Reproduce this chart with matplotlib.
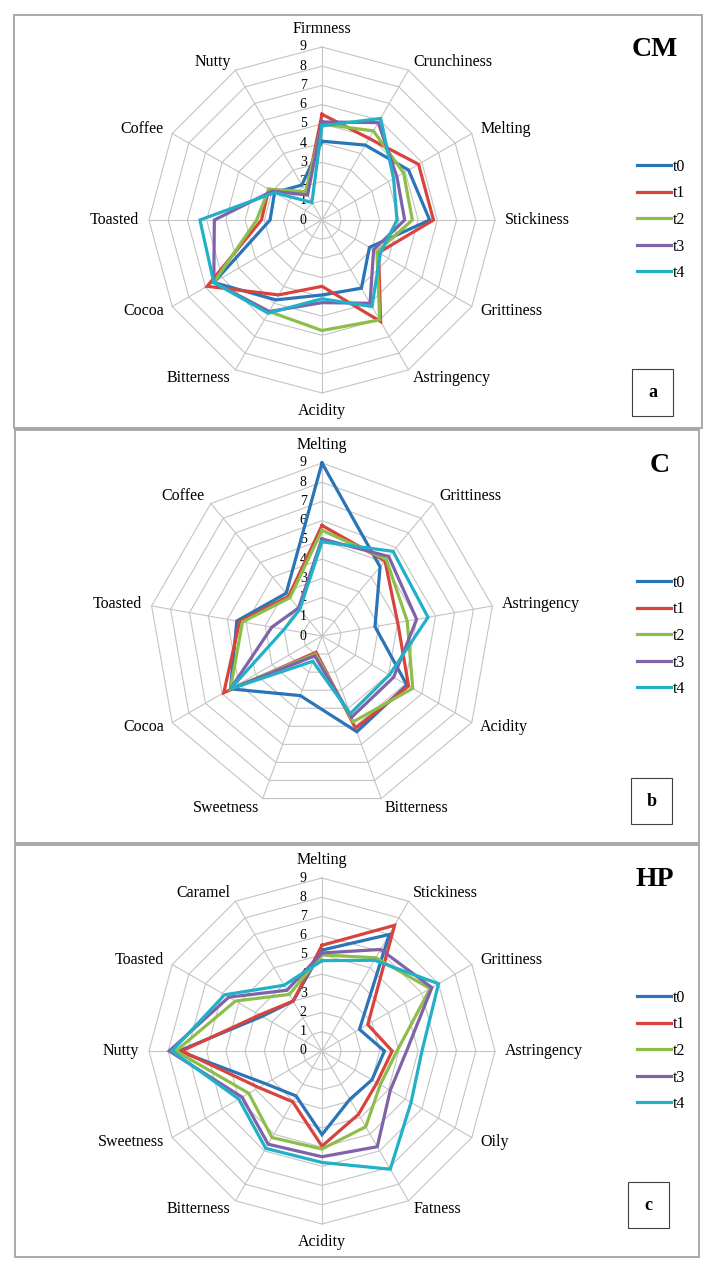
import numpy as np
import matplotlib
matplotlib.use("Agg")
import matplotlib.pyplot as plt
from matplotlib.patches import Rectangle

plt.rcParams['font.family'] = ['Liberation Serif', 'DejaVu Serif']

# ---- data ----
series = ['t0', 't1', 't2', 't3', 't4']
colors = ['#2A74B8', '#D9433E', '#8DBE4A', '#8062A8', '#21B0C8']

cm_labels = ['Firmness', 'Crunchiness', 'Melting', 'Stickiness', 'Grittiness', 'Astringency',
             'Acidity', 'Bitterness', 'Cocoa', 'Toasted', 'Coffee', 'Nutty']
cm_t0 = [4.1, 4.5, 5.2, 5.6, 2.85, 4.1, 3.9, 4.8, 6.5, 2.7, 2.85, 2.1]
cm_t1 = [5.5, 4.9, 5.8, 5.8, 3.4, 6.1, 3.45, 4.5, 6.9, 3.15, 3.2, 1.65]
cm_t2 = [5.0, 5.35, 4.9, 4.7, 3.3, 6.0, 5.75, 5.5, 6.5, 3.4, 3.2, 1.7]
cm_t3 = [5.1, 5.85, 4.5, 4.3, 3.1, 5.0, 4.3, 5.5, 6.5, 5.6, 3.0, 1.5]
cm_t4 = [4.9, 6.1, 4.3, 3.9, 3.5, 5.2, 4.1, 5.6, 6.5, 6.35, 2.85, 1.05]

c_labels = ['Melting', 'Grittiness', 'Astringency', 'Acidity', 'Bitterness', 'Sweetness',
            'Cocoa', 'Toasted', 'Coffee']
c_t0 = [9.0, 4.7, 2.8, 5.1, 5.3, 3.3, 5.5, 4.5, 2.9]
c_t1 = [5.75, 5.1, 4.0, 5.2, 5.1, 0.9, 5.9, 4.35, 2.7]
c_t2 = [5.5, 5.2, 4.5, 5.45, 4.75, 1.0, 5.5, 4.2, 2.6]
c_t3 = [5.05, 5.4, 5.0, 4.3, 4.5, 1.1, 5.5, 2.65, 1.9]
c_t4 = [4.9, 5.75, 5.6, 4.05, 4.3, 1.4, 5.5, 2.0, 1.8]

hp_labels = ['Melting', 'Stickiness', 'Grittiness', 'Astringency', 'Oily', 'Fatness',
             'Acidity', 'Bitterness', 'Sweetness', 'Nutty', 'Toasted', 'Caramel']
hp_t0 = [5.25, 7.0, 2.25, 3.25, 3.0, 2.9, 4.35, 2.7, 3.4, 7.45, 3.6, 3.0]
hp_t1 = [5.5, 7.55, 2.75, 3.65, 3.3, 3.8, 4.95, 3.05, 3.8, 7.3, 3.75, 3.0]
hp_t2 = [5.0, 5.6, 6.5, 3.9, 3.5, 4.55, 5.1, 5.2, 4.4, 7.6, 5.2, 3.4]
hp_t3 = [5.1, 6.1, 6.6, 4.4, 4.1, 5.75, 5.5, 5.6, 4.8, 7.95, 5.6, 3.65]
hp_t4 = [4.7, 5.45, 7.0, 5.2, 5.35, 7.1, 5.8, 5.85, 5.0, 7.8, 5.85, 3.95]

panels = [
    ('CM', 'a', cm_labels, [cm_t0, cm_t1, cm_t2, cm_t3, cm_t4]),
    ('C', 'b', c_labels, [c_t0, c_t1, c_t2, c_t3, c_t4]),
    ('HP', 'c', hp_labels, [hp_t0, hp_t1, hp_t2, hp_t3, hp_t4]),
]

W, H = 713, 1271
fig = plt.figure(figsize=(W / 100, H / 100), dpi=100)

# panel geometry in pixels
centers = [220, 636, 1051]
frames = [(14, 15, 702, 428), (15, 430, 699, 843), (15, 845, 699, 1257)]
boxes = [(632, 369, 673, 416), (631, 778, 672, 824), (628, 1182, 669, 1228)]
title_x = [655, 660, 655]
cx, R = 322, 173
grid_col = '#c4c4c4'


def fig_rect(x0, y0, x1, y1):
    return (x0 / W, 1 - y1 / H, (x1 - x0) / W, (y1 - y0) / H)


for i, (title, letter, labels, values) in enumerate(panels):
    cy = centers[i]
    ax = fig.add_axes([(cx - R) / W, 1 - (cy + R) / H, 2 * R / W, 2 * R / H], projection='polar')
    ax.set_theta_zero_location('N')
    ax.set_theta_direction(-1)
    ax.set_ylim(0, 9)
    ax.set_axis_off()

    n = len(labels)
    ang = np.linspace(0, 2 * np.pi, n, endpoint=False)
    ang_c = np.append(ang, ang[0])

    # polygon grid
    for k in range(1, 10):
        ax.plot(ang_c, [k] * (n + 1), color=grid_col, lw=0.8, clip_on=False, zorder=1)
    for a in ang:
        ax.plot([a, a], [0, 9], color=grid_col, lw=0.8, clip_on=False, zorder=1)

    # scale numbers
    for k in range(10):
        ax.annotate(str(k), xy=(0, k), xytext=(-11, 0), textcoords='offset points',
                    ha='right', va='center', fontsize=10, zorder=2)

    # category labels
    for a, lab in zip(ang, labels):
        s = np.sin(a)
        if abs(s) < 1e-6:
            ha = 'center'
            va = 'bottom' if np.cos(a) > 0 else 'top'
        else:
            ha = 'left' if s > 0 else 'right'
            va = 'center'
        ax.text(a, 9.5, lab, ha=ha, va=va, fontsize=11.5)

    # data
    handles = []
    for name, col, vals in zip(series, colors, values):
        ln, = ax.plot(ang_c, list(vals) + [vals[0]], color=col, lw=2.3, label=name,
                      clip_on=False, zorder=3, solid_joinstyle='miter')
        handles.append(ln)

    ax.legend(handles=handles, loc='center left', bbox_to_anchor=(637 / W, 1 - cy / H),
              bbox_transform=fig.transFigure, frameon=False, fontsize=11.5,
              handlelength=2.1, handletextpad=0.15, labelspacing=0.66,
              borderpad=0, borderaxespad=0)

    # panel frame, title and letter box
    fig.patches.append(Rectangle(fig_rect(*frames[i])[:2], *fig_rect(*frames[i])[2:],
                                 transform=fig.transFigure, fill=False,
                                 ec='#a8a8a8', lw=1.4))
    fig.text(title_x[i] / W, 1 - (frames[i][1] + 35) / H, title, ha='center', va='center',
             fontsize=20, fontweight='bold')
    bx = boxes[i]
    fig.patches.append(Rectangle(fig_rect(*bx)[:2], *fig_rect(*bx)[2:],
                                 transform=fig.transFigure, fill=False,
                                 ec='#404040', lw=0.8))
    fig.text((bx[0] + bx[2]) / 2 / W, 1 - (bx[1] + bx[3]) / 2 / H, letter,
             ha='center', va='center', fontsize=13, fontweight='bold')

fig.savefig('out.png', dpi=100)
